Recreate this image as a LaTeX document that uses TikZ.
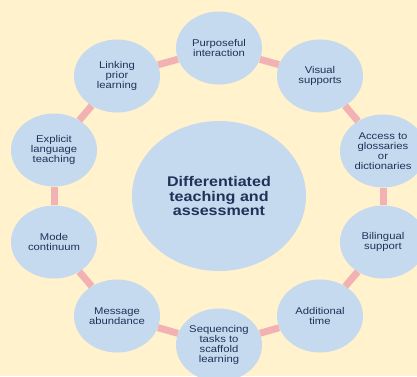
\documentclass[tikz,border=0pt]{standalone}
\usepackage{fontspec}
\setmainfont{Liberation Sans}[FakeStretch=1.15]
\usetikzlibrary{shapes.geometric}

\definecolor{cream}{HTML}{FFF2CC}
\definecolor{bubble}{HTML}{C5D9EF}
\definecolor{ink}{HTML}{1F3358}
\definecolor{link}{HTML}{F2B1B2}

\begin{document}
\begin{tikzpicture}[x=1pt, y=-1pt,
	every node/.style={ellipse, fill=bubble, text=ink, align=center, inner sep=0pt,
		minimum width=86pt, minimum height=73pt, font=\fontsize{9.8}{10.2}\selectfont},
	every edge/.style={draw=link, line width=7pt}]
			\fill[cream] (0,0) rectangle (417,376);
			\useasboundingbox (0,0) rectangle (417,376);

			\node[minimum width=174pt, minimum height=150pt, font=\fontsize{14}{14.4}\selectfont\bfseries] (centre) at (219,196) {Differentiated\\teaching and\\assessment};
			\node (purpose) at (219,48) {Purposeful\\interaction};
			\node (visual) at (320,76) {Visual\\supports};
			\node (access) at (383,151) {Access to\\glossaries\\or\\dictionaries};
			\node (bilingual) at (383,242) {Bilingual\\support};
			\node (extra) at (320,316) {Additional\\time};
			\node (sequence) at (219,345) {Sequencing\\tasks to\\scaffold\\learning};
			\node (message) at (117,316) {Message\\abundance};
			\node (mode) at (54,242) {Mode\\continuum};
			\node (explicit) at (54,150) {Explicit\\language\\teaching};
			\node (linking) at (117,76) {Linking\\prior\\learning};

			\path (purpose) edge (visual);
			\path (visual) edge (access);
			\path (access) edge (bilingual);
			\path (bilingual) edge (extra);
			\path (extra) edge (sequence);
			\path (sequence) edge (message);
			\path (message) edge (mode);
			\path (mode) edge (explicit);
			\path (explicit) edge (linking);
			\path (linking) edge (purpose);
\end{tikzpicture}
\end{document}
